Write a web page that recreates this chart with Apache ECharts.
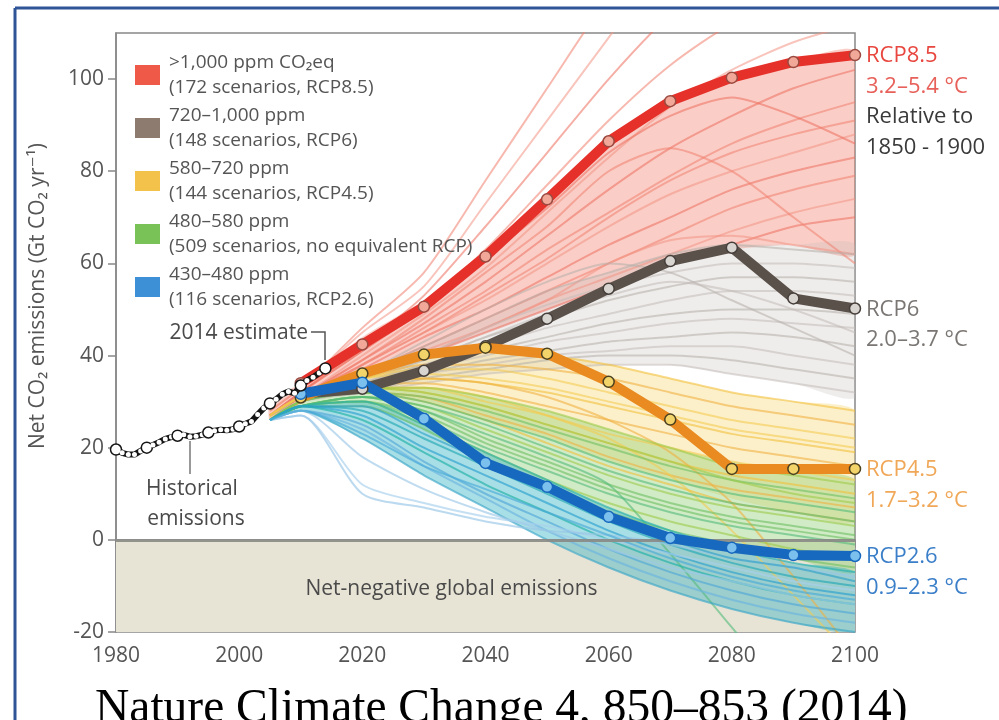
<!DOCTYPE html>
<html>
<head>
<meta charset="utf-8">
<script src="https://cdn.jsdelivr.net/npm/echarts@6/dist/echarts.min.js"></script>
<style>
  html, body { margin: 0; padding: 0; background: #fff; }
  #chart { width: 999px; height: 720px; }
</style>
</head>
<body>
<div id="chart"></div>
<script>
// historical emissions, Gt CO2 per year
const histYears = [1980,1981,1982,1983,1984,1985,1986,1987,1988,1989,1990,1991,1992,1993,1994,1995,1996,1997,1998,1999,
  2000,2001,2002,2003,2004,2005,2006,2007,2008,2009,2010,2011,2012,2013,2014];
const histValues = [19.6,18.9,18.5,18.5,19.3,20.0,20.6,21.2,21.9,22.3,22.6,22.8,22.4,22.5,22.8,23.3,23.7,23.9,23.8,24.0,
  24.6,25.2,25.7,27.2,28.6,29.6,30.5,31.6,32.2,31.8,33.5,34.6,35.3,36.2,37.2];

// RCP pathways
const rcpYears = [2010,2020,2030,2040,2050,2060,2070,2080,2090,2100];
const rcp85 = [34.0,42.4,50.6,61.5,73.9,86.5,95.2,100.3,103.7,105.2];
const rcp6  = [31.7,32.8,36.7,42.0,48.0,54.5,60.5,63.4,52.4,50.2];
const rcp45 = [30.9,36.1,40.2,41.7,40.4,34.3,26.1,15.4,15.4,15.4];
const rcp26 = [31.7,34.1,26.3,16.7,11.5,5.0,0.4,-1.7,-3.3,-3.5];

// scenario spaghetti, sampled at these years
const scenYears = [2005,2010,2020,2030,2040,2050,2060,2070,2080,2090,2100];

const redLines = [
  [28,33,46,58,78,98,118,135,150,158,165],
  [28,33,45,55,73,91,109,127,140,148,152],
  [27,32,42,53,68,84,100,114,124,130,134],
  [27,32,41,51,63,77,91,103,112,117,120],
  [27,31,40,49,59,71,83,94,102,108,112],
  [27,31,39,47,56,66,76,85,92,98,102],
  [26,31,38,46,54,63,71,79,86,91,95],
  [26,30,38,45,52,60,68,75,80,84,88],
  [26,30,37,44,50,57,64,70,76,80,83],
  [26,30,36,42,48,54,60,66,72,76,79],
  [26,30,36,41,46,52,57,62,67,71,74],
  [26,30,35,40,45,50,55,60,64,68,70],
  [27,31,39,48,58,68,80,85,80,70,60],
  [26,30,35,40,46,52,60,65,66,64,62],
  [27,32,41,50,61,72,84,92,96,92,86],
  [27,31,38,45,53,61,70,78,84,88,91]
];
const grayLines = [
  [27,31,36,42,48,54,58,62,64,63,62],
  [27,31,35,40,46,51,55,58,60,60,59],
  [27,31,35,39,44,48,52,55,57,57,56],
  [27,30,34,38,42,46,49,52,54,54,53],
  [27,30,34,38,41,44,47,49,50,50,49],
  [26,30,33,37,40,43,45,47,48,47,46],
  [26,30,33,36,39,41,43,44,45,44,42],
  [26,30,33,36,38,40,41,42,42,40,38],
  [26,30,32,35,37,39,40,40,39,37,35],
  [26,30,32,34,36,37,38,38,36,34,32],
  [27,31,36,43,50,56,60,58,52,46,40],
  [26,30,34,39,44,49,53,56,54,50,45]
];
const yellowLines = [
  [27,31,36,40,41,40,38,35,32,30,28],
  [27,31,35,38,38,37,35,32,29,27,25],
  [27,31,35,37,37,35,32,29,26,24,22],
  [26,30,34,35,34,32,29,26,23,21,19],
  [26,30,34,34,32,29,26,23,20,18,16],
  [26,30,33,33,30,27,23,20,17,15,13],
  [26,30,33,32,29,25,21,17,14,12,10],
  [26,30,32,31,27,23,18,14,11,9,7],
  [26,30,33,33,31,27,22,14,2,-12,-26],
  [26,30,32,30,26,21,16,12,8,6,4],
  [27,31,34,35,34,31,26,19,8,-8,-25],
  [27,31,35,36,35,33,30,27,24,22,20]
];
const greenLines = [
  [26,30,33,33,31,28,24,20,16,14,12],
  [26,30,32,31,28,24,20,16,13,11,9],
  [26,30,32,30,26,22,17,13,10,8,6],
  [26,29,31,29,24,19,14,10,7,5,3],
  [26,29,31,28,22,17,12,8,5,3,1],
  [26,29,30,26,20,15,10,6,3,1,-1],
  [26,29,30,25,19,13,8,4,1,-2,-4],
  [26,29,29,24,17,11,6,2,-1,-4,-6],
  [26,29,31,28,23,18,12,-3,-19,-35,-50],
  [26,30,33,32,29,25,21,17,13,10,8],
  [26,29,30,27,21,16,11,7,4,2,0],
  [26,29,31,29,25,20,15,11,8,6,4]
];
const blueLines = [
  [26,29,28,22,16,10,4,-1,-5,-8,-10],
  [26,29,27,20,14,8,2,-3,-7,-10,-12],
  [26,29,26,19,12,6,0,-5,-9,-12,-14],
  [26,28,25,17,10,4,-2,-7,-11,-14,-16],
  [26,28,24,16,9,2,-4,-9,-13,-16,-18],
  [26,28,22,14,7,0,-6,-11,-15,-18,-20],
  [26,28,18,11,6,2,-2,-6,-9,-12,-14],
  [26,27,12,8,5,3,0,-3,-6,-9,-11],
  [26,27,10,7,4,2,1,-1,-4,-6,-8],
  [26,29,30,25,19,13,7,2,-2,-5,-7],
  [26,29,29,23,17,11,5,0,-4,-6,-9],
  [26,28,23,16,11,6,1,-4,-8,-11,-13]
];

// envelope of each scenario family
const redLow = [26,30,35,40,45,50,55,60,63,64,62];
const redHigh = [30,34,44,52,62,75,87,96,101,104,106];
const grayLow = [26,30,32,34,36,37,38,38,36,34,31];
const grayHigh = [27,31,36,42,48,54,58,62,64,64,64];
const yellowLow = [26,30,32,30,26,22,17,13,9,6,4];
const yellowHigh = [27,31,36,40,41,40,38,35,32,30,28];
const greenLow = [26,29,29,24,17,11,6,2,-1,-4,-7];
const greenHigh = [26,30,33,33,31,28,24,20,17,15,13];
const blueLow = [26,28,22,14,7,0,-6,-11,-15,-18,-20];
const blueHigh = [26,29,30,25,19,13,7,2,-2,-5,-7];

const legendNames = ['>1,000 ppm CO₂eq', '720–1,000 ppm', '580–720 ppm', '480–580 ppm', '430–480 ppm'];
const legendSubs = ['(172 scenarios, RCP8.5)', '(148 scenarios, RCP6)', '(144 scenarios, RCP4.5)',
  '(509 scenarios, no equivalent RCP)', '(116 scenarios, RCP2.6)'];
const legendColors = ['#ef5a48', '#8e7b70', '#f3c24a', '#78c257', '#3d8fd6'];

const xTicks = { min: 1980, max: 2100, interval: 20 };
const yTicks = { min: -20, max: 110, interval: 20 };

const chart = echarts.init(document.getElementById('chart'));
const FONT = '"Open Sans", "DejaVu Sans", sans-serif';

function bandSeries(name, low, high, color, opacity) {
  return {
    type: 'custom', name, silent: true, clip: true, z: 2,
    itemStyle: { color },
    data: [[2050, 0]],
    encode: { x: 0, y: 1 },
    renderItem: (params, api) => {
      const top = scenYears.map((yr, i) => api.coord([yr, high[i]]));
      const bot = scenYears.map((yr, i) => api.coord([yr, low[i]])).reverse();
      return { type: 'polygon', shape: { points: top.concat(bot), smooth: 0.2 },
        style: { fill: color, opacity } };
    }
  };
}

function lineSet(name, lines, colors, opacity) {
  return lines.map((vals, i) => ({
    type: 'line', name, silent: true, z: 3, smooth: 0.25,
    showSymbol: false, symbol: 'none',
    data: scenYears.map((yr, j) => [yr, vals[j]]),
    lineStyle: { width: 2, color: colors[i % colors.length], opacity },
    itemStyle: { color: colors[0] }
  }));
}

function rcpSeries(vals, color, dotFill, dotBorder) {
  return {
    type: 'line', z: 5, silent: true,
    data: rcpYears.map((yr, i) => [yr, vals[i]]),
    lineStyle: { width: 10, color },
    symbol: 'circle', symbolSize: 11, showSymbol: true,
    itemStyle: { color: dotFill, borderColor: dotBorder, borderWidth: 1.5 }
  };
}

const histData = histYears.map((yr, i) => {
  const big = yr % 5 === 0 || yr === 2014;
  return { value: [yr, histValues[i]], symbolSize: big ? 11 : 5,
    itemStyle: { borderWidth: big ? 1.5 : 0 } };
});

const series = [
  {
    type: 'line', silent: true, z: 1, symbol: 'none',
    data: [[1980, -20], [2100, -20]],
    lineStyle: { opacity: 0 },
    markArea: {
      silent: true,
      itemStyle: { color: '#e8e4d5' },
      label: { show: true, position: 'inside', offset: [-34, 3],
        formatter: 'Net-negative global emissions', fontSize: 21, color: '#4a4a4a', fontFamily: FONT },
      data: [[{ xAxis: 1980, yAxis: 0 }, { xAxis: 2100, yAxis: -20 }]]
    }
  },
  bandSeries(legendNames[0], redLow, redHigh, '#f27b68', 0.38),
  bandSeries(legendNames[1], grayLow, grayHigh, '#c4bebb', 0.28),
  bandSeries(legendNames[2], yellowLow, yellowHigh, '#f5cf5c', 0.32),
  bandSeries(legendNames[3], greenLow, greenHigh, '#86ca68', 0.38),
  bandSeries(legendNames[4], blueLow, blueHigh, '#2fb0c0', 0.42),
  ...lineSet(legendNames[0], redLines, ['#f0806e', '#f29484', '#ec6e5c'], 0.55),
  ...lineSet(legendNames[1], grayLines, ['#b5aeaa', '#c2bcb8'], 0.55),
  ...lineSet(legendNames[2], yellowLines, ['#f2c038', '#f0b040', '#f4cc50'], 0.6),
  ...lineSet(legendNames[3], greenLines, ['#9ccc4a', '#6cc062', '#52bb7a'], 0.6),
  ...lineSet(legendNames[4], blueLines, ['#22a8b6', '#2a9fd0', '#1fb0a8', '#52a8d8', '#6cb4e0', '#3aa6c8',
    '#9cc8e8', '#a8d0ec', '#98c6e6', '#26b0b0', '#30a2c8', '#48aad8'], 0.65),
  {
    type: 'line', silent: true, z: 4, symbol: 'none', data: [],
    markLine: { silent: true, symbol: 'none', label: { show: false },
      lineStyle: { color: '#8a8a86', width: 3, type: 'solid', opacity: 0.9 },
      data: [{ yAxis: 0 }] }
  },
  rcpSeries(rcp85, '#e5312a', '#f2a898', '#9a4a40'),
  rcpSeries(rcp6, '#5b514b', '#d8d4d0', '#463e3a'),
  rcpSeries(rcp45, '#e98b20', '#f3d46a', '#4b4020'),
  rcpSeries(rcp26, '#1769bf', '#7cc0ee', '#1769bf'),
  {
    type: 'line', z: 6, silent: true,
    data: histData,
    lineStyle: { width: 6, color: '#151515' },
    symbol: 'circle', showSymbol: true,
    itemStyle: { color: '#fff', borderColor: '#151515' }
  }
];

const axisCommon = {
  axisLine: { show: true, lineStyle: { color: '#888', width: 1.5 } },
  axisTick: { show: true, length: 8, lineStyle: { color: '#888', width: 1.5 } },
  splitLine: { show: false }
};

chart.setOption({
  animation: false,
  textStyle: { fontFamily: FONT },
  grid: { left: 116, right: 144, top: 33, bottom: 88, show: true, borderColor: '#888', borderWidth: 1.5 },
  xAxis: Object.assign({ type: 'value', min: xTicks.min, max: xTicks.max, interval: xTicks.interval,
    axisLabel: { fontSize: 21, color: '#555', margin: 14, fontFamily: FONT, formatter: v => String(v) } }, axisCommon),
  yAxis: Object.assign({ type: 'value', min: yTicks.min, max: yTicks.max, interval: yTicks.interval,
    axisLabel: { fontSize: 21, color: '#555', margin: 12, showMaxLabel: false, fontFamily: FONT } }, axisCommon),
  legend: {
    orient: 'vertical', left: 130, top: 45, itemGap: 3, itemWidth: 25, itemHeight: 20,
    icon: 'rect', selectedMode: false,
    data: legendNames.map((n, i) => ({ name: n, itemStyle: { color: legendColors[i] } })),
    formatter: name => name + '\n' + legendSubs[legendNames.indexOf(name)],
    textStyle: { fontSize: 19, lineHeight: 25, color: '#555', fontFamily: FONT, padding: [0, 0, 0, 4] }
  },
  series
});

// labels at the right end of each pathway
const endLabels = [
  { v: rcp85[rcp85.length - 1], lines: [['RCP8.5', '#e8473f'], ['3.2–5.4 °C', '#e8605a'], ['Relative to', '#3a3a3a'], ['1850 - 1900', '#3a3a3a']] },
  { v: rcp6[rcp6.length - 1], lines: [['RCP6', '#7a7674'], ['2.0–3.7 °C', '#7a7674']] },
  { v: rcp45[rcp45.length - 1], lines: [['RCP4.5', '#f0a858'], ['1.7–3.2 °C', '#f0a858']] },
  { v: rcp26[rcp26.length - 1], lines: [['RCP2.6', '#3b7fc9'], ['0.9–2.3 °C', '#3b7fc9']] }
];
const graphics = [];
endLabels.forEach(lab => {
  const p = chart.convertToPixel({ gridIndex: 0 }, [2100, lab.v]);
  lab.lines.forEach((ln, i) => {
    graphics.push({ type: 'text', x: p[0] + 11, y: p[1] + 1 + i * 30.5,
      style: { text: ln[0], fill: ln[1], font: '22px ' + FONT, textVerticalAlign: 'middle' } });
  });
});

graphics.push(
  // page frame
  { type: 'line', shape: { x1: 15, y1: 8, x2: 999, y2: 8 }, style: { stroke: '#2f5597', lineWidth: 3 } },
  { type: 'line', shape: { x1: 15, y1: 8, x2: 15, y2: 720 }, style: { stroke: '#2f5597', lineWidth: 3 } },
  // axis title
  { type: 'text', x: 38, y: 296, rotation: Math.PI / 2,
    style: { text: 'Net CO₂ emissions (Gt CO₂ yr⁻¹)', fill: '#555', font: '21px ' + FONT,
      textAlign: 'center', textVerticalAlign: 'middle' } },
  // annotations
  { type: 'text', x: 308, y: 333,
    style: { text: '2014 estimate', fill: '#4a4a4a', font: '21px ' + FONT, textAlign: 'right', textVerticalAlign: 'middle' } },
  { type: 'polyline', shape: { points: [[311, 332], [325, 332], [325, 360]] }, style: { stroke: '#555', lineWidth: 1.5, fill: null } },
  { type: 'line', shape: { x1: 190, y1: 441, x2: 190, y2: 474 }, style: { stroke: '#777', lineWidth: 1.5 } },
  { type: 'text', x: 192, y: 489,
    style: { text: 'Historical', fill: '#4a4a4a', font: '21px ' + FONT, textAlign: 'center', textVerticalAlign: 'middle' } },
  { type: 'text', x: 196, y: 519,
    style: { text: 'emissions', fill: '#4a4a4a', font: '21px ' + FONT, textAlign: 'center', textVerticalAlign: 'middle' } },
  // citation
  { type: 'text', x: 95, y: 686,
    style: { text: 'Nature Climate Change 4, 850–853 (2014)', fill: '#000', font: '47.5px "Liberation Serif", "Times New Roman", serif',
      textVerticalAlign: 'top' } }
);
chart.setOption({ graphic: graphics });
</script>
</body>
</html>
